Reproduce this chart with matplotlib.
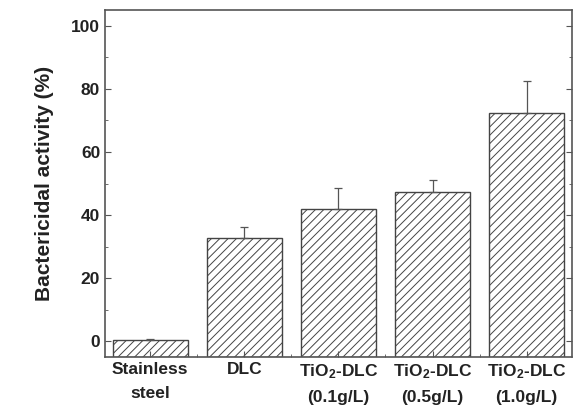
import numpy as np
import matplotlib
matplotlib.use("Agg")
import matplotlib.pyplot as plt
from matplotlib.ticker import MultipleLocator

plt.rcParams['font.family'] = 'Liberation Sans'
plt.rcParams['font.weight'] = 'bold'
plt.rcParams['axes.labelweight'] = 'bold'
plt.rcParams['mathtext.fontset'] = 'custom'
plt.rcParams['mathtext.rm'] = 'Liberation Sans:bold'
plt.rcParams['mathtext.default'] = 'rm'
plt.rcParams['hatch.color'] = '#8a8a8a'
plt.rcParams['hatch.linewidth'] = 0.7

# veriler
labels = ["Stainless\nsteel", "DLC", "TiO$_2$-DLC\n(0.1g/L)",
          "TiO$_2$-DLC\n(0.5g/L)", "TiO$_2$-DLC\n(1.0g/L)"]
activity = [0.3, 32.6, 41.9, 47.3, 72.4]
err = [0.3, 3.6, 6.7, 3.8, 10.1]

base = -5
fig = plt.figure(figsize=(5.77, 4.2), dpi=100)
ax = fig.add_axes([0.182, 0.15, 0.809, 0.826])

x = np.arange(len(labels))
ax.bar(x, np.array(activity) - base, bottom=base, width=0.8, color='white',
       edgecolor='#444444', linewidth=1.0, hatch='////')
ax.errorbar(x, activity, yerr=[np.zeros(len(err)), err], fmt='none',
            ecolor='#555555', elinewidth=0.9, capsize=3, capthick=0.9)

ax.set_xlim(-0.48, 4.48)
ax.set_ylim(base, 105)
ax.set_xticks(x)
ax.set_xticklabels(labels, fontsize=12.5, color='#222222', linespacing=1.8)
ax.xaxis.set_minor_locator(MultipleLocator(0.5))
ax.yaxis.set_major_locator(MultipleLocator(20))
ax.yaxis.set_minor_locator(MultipleLocator(10))
ax.tick_params(axis='y', labelsize=12.5, labelcolor='#222222')
ax.tick_params(which='both', direction='in', right=True, color='#555555')
ax.tick_params(which='major', length=4)
ax.tick_params(which='minor', length=2.5)
ax.set_ylabel("Bactericidal activity (%)", fontsize=15, color='#222222', labelpad=12)

for s in ax.spines.values():
    s.set_color('#555555')
    s.set_linewidth(1.2)

plt.savefig("out.png", dpi=100)
plt.close()
